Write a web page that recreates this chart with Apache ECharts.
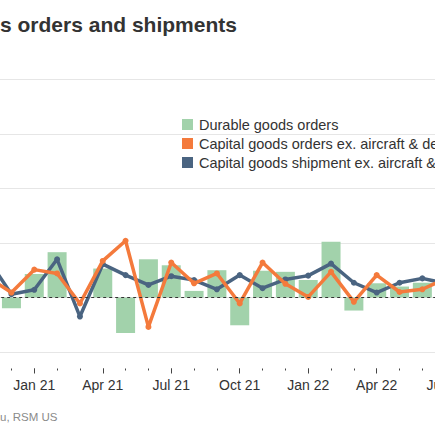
<!DOCTYPE html>
<html>
<head>
<meta charset="utf-8">
<script src="https://cdn.jsdelivr.net/npm/echarts@6/dist/echarts.min.js"></script>
<style>
html,body{margin:0;padding:0;background:#fff;}
#chart{width:435px;height:435px;}
</style>
</head>
<body>
<div id="chart"></div>
<script>
// Data (monthly % change)
var months = ['Nov 20','Dec 20','Jan 21','Feb 21','Mar 21','Apr 21','May 21','Jun 21','Jul 21','Aug 21','Sep 21','Oct 21','Nov 21','Dec 21','Jan 22','Feb 22','Mar 22','Apr 22','May 22','Jun 22','Jul 22'];
var durableOrders = [null,-0.20,0.43,0.83,0.00,0.53,-0.65,0.70,0.59,0.12,0.50,-0.51,0.49,0.47,0.32,1.02,-0.24,0.26,0.20,0.27,0.55];
var capOrders = [0.36,0.09,0.51,0.44,-0.11,0.67,1.04,-0.54,0.64,0.26,0.44,-0.11,0.64,0.25,0.01,0.47,-0.08,0.41,0.10,0.15,0.34];
var capShipments = [0.68,0.06,0.14,0.70,-0.35,0.61,0.41,0.23,0.39,0.32,0.15,0.41,0.17,0.33,0.40,0.62,0.27,0.09,0.27,0.35,0.26];
var seriesNames = ['Durable goods orders','Capital goods orders ex. aircraft & defense','Capital goods shipment ex. aircraft & defense'];
var seriesColors = ['#a2d2ab','#f47a3c','#4a6481'];
var titleText = 's orders and shipments';
var sourceText = 'u, RSM US';

var isQuarter = function (i, v) { return /^(Jan|Apr|Jul|Oct)/.test(v); };
var font = 'Liberation Sans, Arial, Helvetica, sans-serif';

var chart = echarts.init(document.getElementById('chart'), null, {renderer: 'svg'});
chart.setOption({
  animation: false,
  backgroundColor: '#ffffff',
  textStyle: {fontFamily: font},
  title: [
    {text: titleText, left: 0, top: 14, padding: 0,
     textStyle: {fontFamily: font, fontSize: 21, fontWeight: 'bold', color: '#333333'}},
    {text: sourceText, left: 0, top: 411, padding: 0,
     textStyle: {fontFamily: font, fontSize: 11.5, fontWeight: 'normal', color: '#8a8a8a'}}
  ],
  legend: {
    orient: 'vertical', left: 182, top: 117, padding: 0, itemGap: 4,
    itemWidth: 11, itemHeight: 11,
    itemStyle: {borderWidth: 0},
    data: seriesNames.map(function (n, i) {
      return {name: n, icon: 'rect', itemStyle: {color: seriesColors[i], borderWidth: 0, opacity: 1}};
    }),
    textStyle: {fontFamily: font, fontSize: 14.5, color: '#333333', padding: [0,0,0,1]}
  },
  grid: {left: -22.8, right: -21.6, top: 79.3, bottom: 83, outerBoundsMode: 'none'},
  xAxis: [
    {type: 'category', data: months, position: 'bottom', offset: 16.5,
     axisLine: {show: false, onZero: false},
     axisTick: {show: true, alignWithLabel: true, interval: isQuarter, length: 5, lineStyle: {color: '#444444'}},
     axisLabel: {show: true, interval: isQuarter, margin: 9, fontFamily: font, fontSize: 14, color: '#333333'},
     splitLine: {show: false}},
    {type: 'category', data: months, position: 'bottom', offset: 16.5,
     axisLine: {show: false, onZero: false},
     axisTick: {show: true, alignWithLabel: true, interval: 0, length: 2, lineStyle: {color: '#444444'}},
     axisLabel: {show: false}, splitLine: {show: false}}
  ],
  yAxis: {
    type: 'value', min: -1, max: 4, interval: 1,
    axisLine: {show: false}, axisTick: {show: false}, axisLabel: {show: false},
    splitLine: {show: true, lineStyle: {color: '#e6e6e6', width: 1}}
  },
  series: [
    {name: 'zero', type: 'line', data: [], z: 1, silent: true,
     markLine: {silent: true, symbol: 'none', label: {show: false},
       lineStyle: {color: '#333333', width: 1, type: [3, 3]},
       data: [{yAxis: 0}]}},
    {name: seriesNames[0], type: 'bar', data: durableOrders, barWidth: 19,
     itemStyle: {color: 'rgb(162,210,171)', borderWidth: 0}, z: 2},
    {name: seriesNames[2], type: 'line', data: capShipments,
     symbol: 'circle', symbolSize: 6, lineStyle: {color: seriesColors[2], width: 3.5},
     itemStyle: {color: seriesColors[2]}, z: 3},
    {name: seriesNames[1], type: 'line', data: capOrders,
     symbol: 'circle', symbolSize: 6, lineStyle: {color: seriesColors[1], width: 3.5},
     itemStyle: {color: seriesColors[1]}, z: 4}
  ]
});
</script>
</body>
</html>
